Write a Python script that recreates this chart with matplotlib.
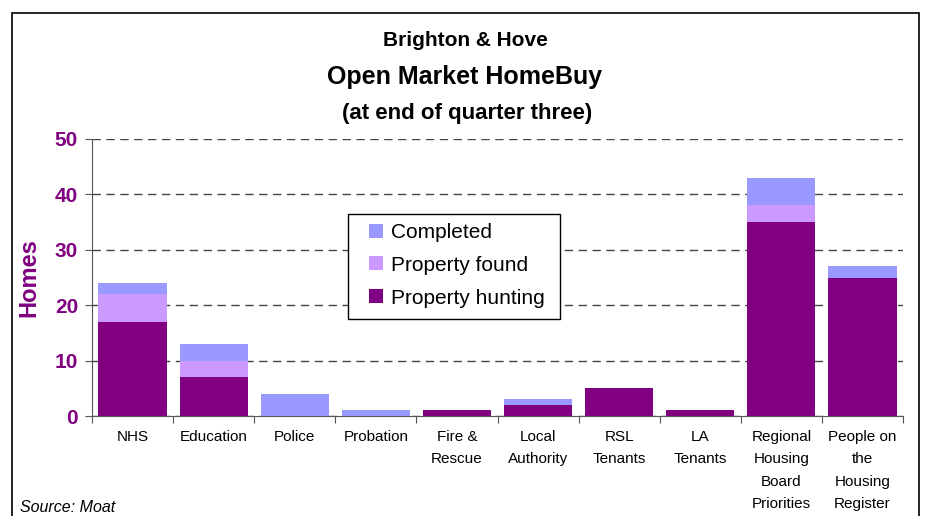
import numpy as np
import matplotlib
matplotlib.use("Agg")
import matplotlib.pyplot as plt
from matplotlib.patches import Rectangle

# ── Data ─────────────────────────────────────────────────────────
categories = ["NHS", "Education", "Police", "Probation", "Fire &\nRescue",
              "Local\nAuthority", "RSL\nTenants", "LA\nTenants",
              "Regional\nHousing\nBoard\nPriorities",
              "People on\nthe\nHousing\nRegister"]
hunting = [17, 7, 0, 0, 1, 2, 5, 1, 35, 25]
found = [5, 3, 0, 0, 0, 0, 0, 0, 3, 0]
completed = [2, 3, 4, 1, 0, 1, 0, 0, 5, 2]

C_HUNT = "#800080"
C_FOUND = "#CC99FF"
C_DONE = "#9999FF"
PURPLE = "#800080"

plt.rcParams["font.family"] = ["Liberation Sans", "DejaVu Sans"]

W, H = 931, 516
fig = plt.figure(figsize=(W / 100, H / 100), dpi=100)

# outer chart frame
fig.patches.append(Rectangle((11.5 / W, -0.05), (919 - 11.5) / W, 1.05 - 12.5 / H,
                             transform=fig.transFigure, fill=False,
                             edgecolor="black", linewidth=1.2))

AX_L, AX_R, AX_T, AX_B = 92, 903, 139, 416
ax = fig.add_axes([AX_L / W, (H - AX_B) / H, (AX_R - AX_L) / W, (AX_B - AX_T) / H])

def ax_frac(px, py):
    """pixel position -> axes fraction"""
    return (px - AX_L) / (AX_R - AX_L), (AX_B - py) / (AX_B - AX_T)

x = np.arange(len(categories))
hunting = np.array(hunting)
found = np.array(found)
completed = np.array(completed)
bw = 0.84
ax.bar(x, hunting, bw, color=C_HUNT, label="Property hunting", zorder=3)
ax.bar(x, found, bw, bottom=hunting, color=C_FOUND, label="Property found", zorder=3)
ax.bar(x, completed, bw, bottom=hunting + found, color=C_DONE, label="Completed", zorder=3)

ax.set_xlim(-0.5, len(categories) - 0.5)
ax.set_ylim(0, 50)
ax.set_yticks(range(0, 51, 10))
ax.yaxis.grid(True, linestyle=(0, (6, 4)), color="#444444", linewidth=1.0)
ax.set_axisbelow(True)

for s in ["top", "right"]:
    ax.spines[s].set_visible(False)
ax.spines["left"].set_color("#555555")
ax.spines["bottom"].set_color("#555555")

ax.tick_params(axis="y", colors="#555555", length=5, labelcolor=PURPLE,
               labelsize=15, pad=5)
for lbl in ax.get_yticklabels():
    lbl.set_fontweight("bold")

# x ticks sit between categories; labels centred under bars
ax.set_xticks(np.arange(-0.5, len(categories), 1.0))
ax.set_xticklabels([])
ax.tick_params(axis="x", colors="#555555", length=5)
for i, c in enumerate(categories):
    ax.text(i, -2.5, c, ha="center", va="top", fontsize=11,
            linespacing=1.76, transform=ax.transData, clip_on=False)

ax.set_ylabel("Homes", color=PURPLE, fontsize=17, fontweight="bold", labelpad=10)

# legend, ordered top-down as Completed / found / hunting; frame drawn separately
h, l = ax.get_legend_handles_labels()
leg = ax.legend(h[::-1], l[::-1], loc="upper left",
                bbox_to_anchor=ax_frac(369, 223),
                borderaxespad=0, borderpad=0, fontsize=15, frameon=False,
                handlelength=0.65, handleheight=0.65,
                handletextpad=0.4, labelspacing=0.66)
leg.set_zorder(6)
x0, y0 = ax_frac(348, 319)
x1, y1 = ax_frac(560, 214)
ax.add_patch(Rectangle((x0, y0), x1 - x0, y1 - y0, transform=ax.transAxes,
                       facecolor="white", edgecolor="black", linewidth=1.0,
                       zorder=5))

# titles
fig.text(465 / W, 1 - 40 / H, "Brighton & Hove", ha="center", va="center",
         fontsize=15, fontweight="bold")
fig.text(465 / W, 1 - 77 / H, "Open Market HomeBuy", ha="center", va="center",
         fontsize=18, fontweight="bold")
fig.text(467 / W, 1 - 113 / H, "(at end of quarter three)", ha="center",
         va="center", fontsize=16, fontweight="bold")

fig.text(20 / W, 1 - 507 / H, "Source: Moat", ha="left", va="center",
         fontsize=11.5, style="italic")

fig.savefig("out.png", dpi=100)
